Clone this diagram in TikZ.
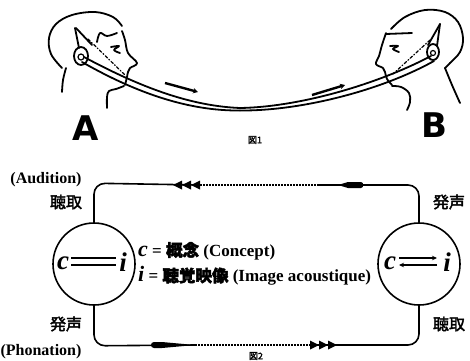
\documentclass[tikz,border=0pt]{standalone}
\usepackage{fontspec}
\usetikzlibrary{arrows.meta}
\setmainfont{Liberation Serif}
\newfontfamily\cjk{Noto Sans CJK JP}[FakeBold=2.5]
\newfontfamily\letterfont{DejaVu Sans}
\begin{document}
\begin{tikzpicture}[x=1pt,y=-1pt,
  ink/.style={line width=1.8pt, line cap=round, line join=round},
  thin ink/.style={line width=1.2pt, line cap=round},
  face/.style={ink, smooth, tension=0.6},
  loopline/.style={line width=1.6pt, line join=round, rounded corners=11pt},
  dotline/.style={line width=1.6pt, dash pattern=on 1.6pt off 1.4pt},
  label/.style={font=\bfseries\fontsize{16}{16}\selectfont, inner sep=0pt},
  cjklabel/.style={font=\cjk\fontsize{16}{16}\selectfont, inner sep=0pt},
  mind/.style={circle, draw, line width=1.6pt, minimum size=82pt, inner sep=0pt},
  sym/.style={font=\bfseries\itshape\fontsize{27}{27}\selectfont, inner sep=0pt},
  bigletter/.style={font=\letterfont\bfseries\fontsize{34}{34}\selectfont, inner sep=0pt},
  caption/.style={font=\cjk\fontsize{9}{9}\selectfont, inner sep=0pt},
  legend/.style={font=\bfseries\fontsize{17}{17}\selectfont, inner sep=0pt, anchor=west},
]
\useasboundingbox (0,0) rectangle (470,360);

% ---------- speaker A ----------
\draw[face] plot coordinates {(62,68) (51,54) (49,38) (56,24) (72,15) (95,12) (113,17) (122,26)};
\draw[face] plot coordinates {(122,31) (125,40) (128,53) (137,63) (130,68) (128,72) (127,77) (125,85)};
\draw[face] plot coordinates {(124,86) (116,89) (109,91) (107,97) (107,108)};
\draw[face] plot coordinates {(66,68) (63,80) (62,92)};
\draw[face] plot coordinates {(97,42) (100,33) (107,36) (117,33)};
\draw[face] plot coordinates {(111,47) (119,46) (114,50) (120,53)};
\draw[ink] (81,56) ellipse [x radius=7, y radius=9];
\draw[thin ink] (81,57) circle [radius=3];
\draw[ink] (75,28) -- (79,48);
\draw[ink] (76,28) -- (92,45);
\draw[thin ink, dash pattern=on 3pt off 2pt on 1pt off 2pt] (88,39) -- (125,75);

% ---------- speaker B ----------
\draw[face] plot coordinates {(391,29) (405,17) (425,10) (445,12) (458,22) (463,38) (460,52) (450,63) (445,68)};
\draw[face] plot coordinates {(445,68) (452,85) (460,103)};
\draw[face] plot coordinates {(386,33) (382,45) (379,56) (376,64) (383,68) (385,72) (387,79) (392,85)};
\draw[face] plot coordinates {(392,86) (401,87) (409,93) (410,102) (407,110)};
\draw[ink] (386,34) -- (412,33);
\draw[face] plot coordinates {(390,46) (398,46) (393,49) (399,52)};
\draw[ink] (433,52) ellipse [x radius=6, y radius=8];
\draw[thin ink] (433,53) circle [radius=2.5];
\draw[ink] (440,24) -- (428,45);
\draw[ink] (440,24) -- (437,46);
\draw[thin ink, dash pattern=on 3pt off 2pt on 1pt off 2pt] (430,40) -- (393,74);

% ---------- sound path between the two heads ----------
\coordinate (earA1) at (84,57);
\coordinate (earA2) at (82,62);
\coordinate (mid1) at (240,108);
\coordinate (mid2) at (240,110.5);
\coordinate (earB1) at (431,56);
\coordinate (earB2) at (434,61);
\draw[ink] (earA1) .. controls (140,87) and (190,106) .. (mid1);
\draw[ink] (earA2) .. controls (138,94) and (190,111) .. (mid2);
\draw[ink] (mid1) .. controls (300,107) and (378,84) .. (earB1);
\draw[ink] (mid2) .. controls (300,111) and (380,91) .. (earB2);

\coordinate (arA1) at (165,83);
\coordinate (arA2) at (198,92);
\coordinate (arB1) at (312,95);
\coordinate (arB2) at (345,85);
\draw[line width=2.4pt, -{Stealth[length=5pt,width=5.5pt]}] (arA1) -- (arA2);
\draw[line width=2.4pt, -{Stealth[length=5pt,width=5.5pt]}] (arB1) -- (arB2);

\node[bigletter] (A) at (86,128) {A};
\node[bigletter] (B) at (434,125) {B};
\node[caption] (fig1) at (255,140) {図1};

% ---------- speech circuit ----------
\node[mind] (L) at (94,264) {};
\node[mind] (R) at (419,264) {};

% c = i inside the circles
\node[sym] (Lc) at (63,263) {c};
\node[sym] (Li) at (123,262) {i};
\draw[line width=2.6pt] (71,258) -- (116,258);
\draw[line width=2.6pt] (71,265) -- (116,265);
\node[sym] (Rc) at (390,263) {c};
\node[sym] (Ri) at (447,262) {i};
\draw[line width=1.8pt, -{Stealth[length=5pt,width=4.5pt]}] (399,258) -- (437,258);
\draw[line width=1.8pt, -{Stealth[length=5pt,width=4.5pt]}] (437,265) -- (399,265);

% upper branch: from the right speaker's phonation to the left listener
\coordinate (tA) at (200,185);
\coordinate (tB) at (318,185);
\draw[loopline] (L.north) -- ++(0,-39) -- (tA);
\draw[dotline] (tA) -- (tB);
\draw[loopline] (tB) -| (R.north);
\foreach \x in {173,182,191}
  \fill (\x,185) -- (\x+9,180.5) -- (\x+9,189.5) -- cycle;
\fill (338,185) -- (348,182) -- (361,182) .. controls (364,182) and (364,188) .. (361,188) -- (348,188) -- cycle;

% lower branch: from the left speaker's phonation to the right listener
\coordinate (bA) at (195,345);
\coordinate (bB) at (310,345);
\draw[loopline] (L.south) -- ++(0,40) -- (bA);
\draw[dotline] (bA) -- (bB);
\draw[loopline] (bB) -| (R.south);
\foreach \x in {310,319,328}
  \fill (\x+9,345) -- (\x,340.5) -- (\x,349.5) -- cycle;
\fill (195,345) -- (162,342) -- (154,342) .. controls (150,342) and (150,348) .. (154,348) -- (162,348) -- cycle;

% labels
\node[label] (aud) at (46,180) {(Audition)};
\node[cjklabel] (tingL) at (66,202) {聴取};
\node[cjklabel] (faL) at (66,324) {発声};
\node[label] (pho) at (41,352) {(Phonation)};
\node[cjklabel] (faR) at (449,202) {発声};
\node[cjklabel] (tingR) at (449,324) {聴取};

\node[legend] (defc) at (138,251) {{\itshape\fontsize{22}{22}\selectfont c} = {\cjk\fontsize{16.5}{17}\selectfont 概念} (Concept)};
\node[legend] (defi) at (138,276) {{\itshape\fontsize{22}{22}\selectfont i} = {\cjk\fontsize{16.5}{17}\selectfont 聴覚映像} (Image acoustique)};

\node[caption] (fig2) at (256,356) {図2};
\end{tikzpicture}
\end{document}
